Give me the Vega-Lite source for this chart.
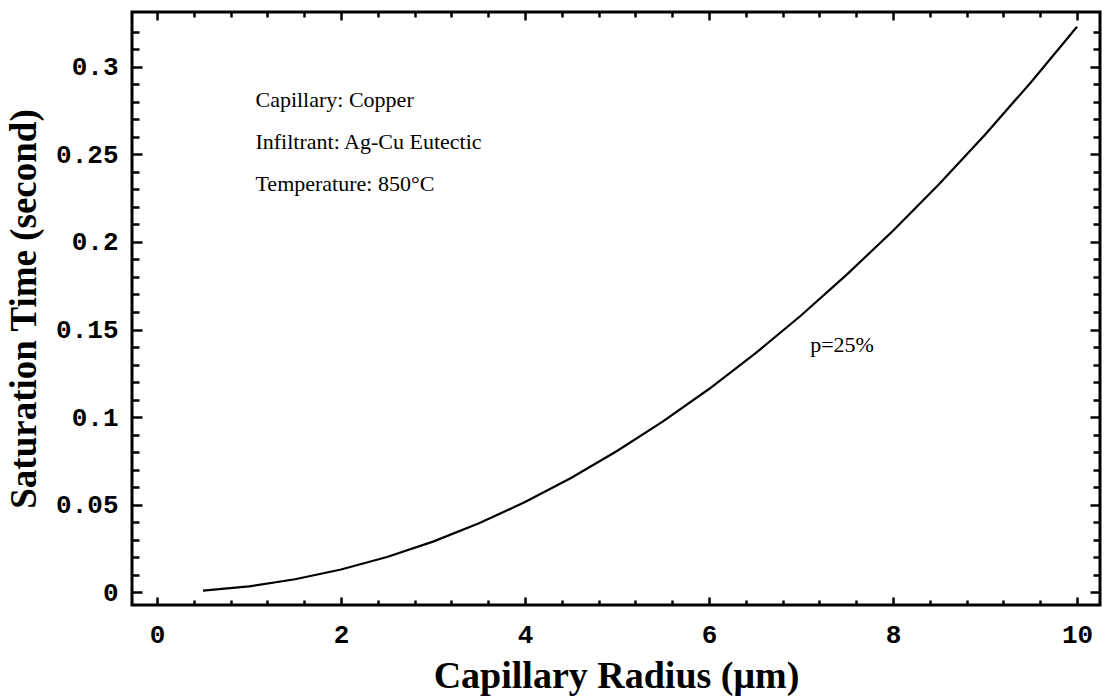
{
  "$schema": "https://vega.github.io/schema/vega-lite/v6.json",
  "width": 968,
  "height": 593,
  "autosize": {"type": "none"},
  "padding": {"left": 132, "top": 12, "right": 7, "bottom": 93},
  "background": "white",
  "config": {"view": {"stroke": "black", "strokeWidth": 3}},
  "datasets": {
    "curve": [
      {"radius": 0.5, "time": 0.0008},
      {"radius": 1.0, "time": 0.0032},
      {"radius": 1.5, "time": 0.0073},
      {"radius": 2.0, "time": 0.0129},
      {"radius": 2.5, "time": 0.0200},
      {"radius": 3.0, "time": 0.0288},
      {"radius": 3.5, "time": 0.0393},
      {"radius": 4.0, "time": 0.0514},
      {"radius": 4.5, "time": 0.0652},
      {"radius": 5.0, "time": 0.0806},
      {"radius": 5.5, "time": 0.0975},
      {"radius": 6.0, "time": 0.1160},
      {"radius": 6.5, "time": 0.1362},
      {"radius": 7.0, "time": 0.1580},
      {"radius": 7.5, "time": 0.1815},
      {"radius": 8.0, "time": 0.2064},
      {"radius": 8.5, "time": 0.2330},
      {"radius": 9.0, "time": 0.2613},
      {"radius": 9.5, "time": 0.2913},
      {"radius": 10.0, "time": 0.3230}
    ],
    "notes": [
      {"radius": 1.07, "time": 0.281, "label": "Capillary: Copper"},
      {"radius": 1.07, "time": 0.257, "label": "Infiltrant: Ag-Cu Eutectic"},
      {"radius": 1.07, "time": 0.233, "label": "Temperature: 850°C"},
      {"radius": 7.1, "time": 0.141, "label": "p=25%"}
    ]
  },
  "layer": [
    {
      "data": {"name": "curve"},
      "mark": {"type": "line", "color": "black", "strokeWidth": 2.2},
      "encoding": {
        "x": {
          "field": "radius", "type": "quantitative",
          "scale": {"domain": [-0.272, 10.25], "nice": false, "zero": false},
          "axis": {
            "orient": "bottom", "offset": -8, "domain": false,
            "title": "Capillary Radius (μm)",
            "titleFont": "Liberation Serif", "titleFontSize": 38, "titleFontWeight": "bold", "titleColor": "black",
            "titlePadding": 10,
            "values": [0, 2, 4, 6, 8, 10],
            "format": "~r",
            "labelFont": "Liberation Mono", "labelFontSize": 26, "labelFontWeight": "bold", "labelColor": "black",
            "labelPadding": 16,
            "tickSize": 8,
            "tickWidth": 2.5, "tickColor": "black",
            "grid": false
          }
        },
        "y": {
          "field": "time", "type": "quantitative",
          "scale": {"domain": [-0.0074, 0.3314], "nice": false, "zero": false},
          "axis": {
            "orient": "left", "offset": -10, "domain": false,
            "title": "Saturation Time (second)",
            "titleFont": "Liberation Serif", "titleFontSize": 37, "titleFontWeight": "bold", "titleColor": "black",
            "titlePadding": 12,
            "values": [0, 0.05, 0.1, 0.15, 0.2, 0.25, 0.3],
            "format": "~r",
            "labelFont": "Liberation Mono", "labelFontSize": 26, "labelFontWeight": "bold", "labelColor": "black",
            "labelPadding": 14,
            "tickSize": 10,
            "tickWidth": 2.5, "tickColor": "black",
            "grid": false
          }
        }
      }
    },
    {
      "data": {"name": "notes"},
      "mark": {"type": "text", "font": "Liberation Serif", "fontSize": 22, "align": "left", "baseline": "middle", "color": "black"},
      "encoding": {
        "x": {
          "field": "radius", "type": "quantitative",
          "scale": {"domain": [-0.272, 10.25], "nice": false, "zero": false},
          "axis": {
            "orient": "top", "offset": -8, "domain": false, "title": null, "labels": false,
            "values": [0, 2, 4, 6, 8, 10],
            "tickSize": 8,
            "tickWidth": 2.5, "tickColor": "black",
            "grid": false
          }
        },
        "y": {
          "field": "time", "type": "quantitative",
          "scale": {"domain": [-0.0074, 0.3314], "nice": false, "zero": false},
          "axis": {
            "orient": "right", "offset": -10, "domain": false, "title": null, "labels": false,
            "values": [0, 0.05, 0.1, 0.15, 0.2, 0.25, 0.3],
            "tickSize": 10,
            "tickWidth": 2.5, "tickColor": "black",
            "grid": false
          }
        },
        "text": {"field": "label"}
      }
    },
    {
      "data": {"name": "curve"},
      "mark": {"type": "line", "strokeOpacity": 0},
      "encoding": {
        "x": {
          "field": "radius", "type": "quantitative",
          "scale": {"domain": [-0.272, 10.25], "nice": false, "zero": false},
          "axis": {
            "orient": "bottom", "offset": -5, "title": null, "labels": false, "domain": false,
            "values": [0.4, 0.8, 1.2, 1.6, 2.4, 2.8, 3.2, 3.6, 4.4, 4.8, 5.2, 5.6, 6.4, 6.8, 7.2, 7.6, 8.4, 8.8, 9.2, 9.6],
            "tickSize": 5,
            "tickWidth": 2.5, "tickColor": "black",
            "grid": false
          }
        },
        "y": {
          "field": "time", "type": "quantitative",
          "scale": {"domain": [-0.0074, 0.3314], "nice": false, "zero": false},
          "axis": {
            "orient": "left", "offset": -7, "title": null, "labels": false, "domain": false,
            "values": [0.01, 0.02, 0.03, 0.04, 0.06, 0.07, 0.08, 0.09, 0.11, 0.12, 0.13, 0.14, 0.16, 0.17, 0.18, 0.19, 0.21, 0.22, 0.23, 0.24, 0.26, 0.27, 0.28, 0.29, 0.31, 0.32],
            "tickSize": 7,
            "tickWidth": 2.5, "tickColor": "black",
            "grid": false
          }
        }
      }
    },
    {
      "data": {"name": "curve"},
      "mark": {"type": "line", "strokeOpacity": 0},
      "encoding": {
        "x": {
          "field": "radius", "type": "quantitative",
          "scale": {"domain": [-0.272, 10.25], "nice": false, "zero": false},
          "axis": {
            "orient": "top", "offset": -5, "title": null, "labels": false, "domain": false,
            "values": [0.4, 0.8, 1.2, 1.6, 2.4, 2.8, 3.2, 3.6, 4.4, 4.8, 5.2, 5.6, 6.4, 6.8, 7.2, 7.6, 8.4, 8.8, 9.2, 9.6],
            "tickSize": 5,
            "tickWidth": 2.5, "tickColor": "black",
            "grid": false
          }
        },
        "y": {
          "field": "time", "type": "quantitative",
          "scale": {"domain": [-0.0074, 0.3314], "nice": false, "zero": false},
          "axis": {
            "orient": "right", "offset": -7, "title": null, "labels": false, "domain": false,
            "values": [0.01, 0.02, 0.03, 0.04, 0.06, 0.07, 0.08, 0.09, 0.11, 0.12, 0.13, 0.14, 0.16, 0.17, 0.18, 0.19, 0.21, 0.22, 0.23, 0.24, 0.26, 0.27, 0.28, 0.29, 0.31, 0.32],
            "tickSize": 7,
            "tickWidth": 2.5, "tickColor": "black",
            "grid": false
          }
        }
      }
    }
  ],
  "resolve": {"axis": {"x": "independent", "y": "independent"}}
}
